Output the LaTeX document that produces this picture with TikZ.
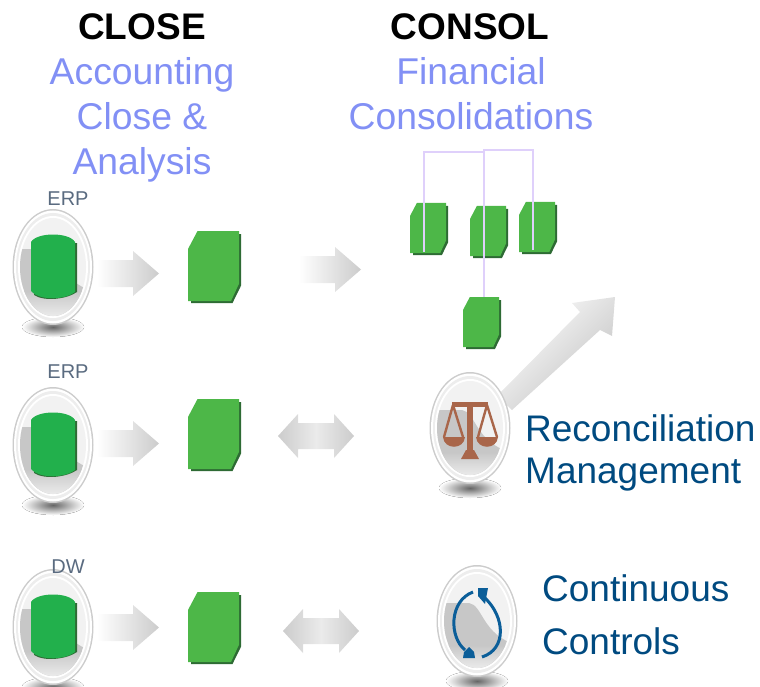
\documentclass[tikz,border=0pt]{standalone}
\usepackage{fontspec}
\setmainfont{Liberation Sans}
\usetikzlibrary{calc}
\definecolor{headblue}{HTML}{8290F5}
\definecolor{navy}{HTML}{004A80}
\definecolor{leaf}{HTML}{4DB748}
\definecolor{cyl}{HTML}{22B04C}
\definecolor{leafdark}{HTML}{2E6B34}
\definecolor{wire}{HTML}{DFD0FB}
\definecolor{slate}{HTML}{5A6B80}
\definecolor{brass}{HTML}{A9664A}
\definecolor{loopblue}{HTML}{0B5E99}
\tikzset{
  x=1pt,y=-1pt,
  title/.style={font=\bfseries\fontsize{37}{40}\selectfont,text=black,inner sep=0pt,anchor=center},
  sub/.style={font=\fontsize{37.3}{45}\selectfont,text=headblue,inner sep=0pt,align=center},
  tag/.style={font=\fontsize{20}{22}\selectfont,text=slate,inner sep=0pt},
  side/.style={font=\fontsize{37}{42}\selectfont,text=navy,inner sep=0pt,align=left,anchor=west},
  wireline/.style={draw=wire,line width=2pt},
  fadearrow/.style={left color=white,right color=black!20,draw=none},
  fadetwo/.style={draw=none,left color=black!20,right color=black!20,middle color=black!8},
}
% green sheet: name, left, top, width, height
\newcommand{\sheet}[5]{%
  \begin{scope}[shift={(#2,#3)}]
    \fill[leafdark] (#4*.3,3) -- (#4,3) -- (#4,#5-#5*.24) -- (#4-#4*.16,#5) -- (3,#5) -- (3,#5-5) -- cycle;
    \fill[leaf] (#4*.18,0) -- (#4-2,0) -- (#4-2,#5-2-#5*.24) -- (#4-2-#4*.15,#5-2) -- (0,#5-2) -- (0,#5*.25) -- cycle;
    \node[minimum width=#4,minimum height=#5,inner sep=0pt,anchor=north west] (#1) at (0,0) {};
  \end{scope}}
% glossy oval: name, cx, cy, vertical radius
\newcommand{\glossy}[4]{%
  \begin{scope}[shift={(#2,#3)}]
    \fill[inner color=black!60,outer color=white] (0,60) ellipse (31 and 10);
    \fill[black!20] (0,0) ellipse (40.5 and #4+1);
    \fill[white] (0,0) ellipse (39 and #4-0.5);
    \fill[black!7] (0,0) ellipse (37 and #4-3);
    \fill[white] (0,0) ellipse (35 and #4-6);
    \begin{scope}
      \clip (0,0) ellipse (33 and #4-8);
      \fill[black!5] (-40,-60) rectangle (40,60);
      \fill[black!22] (-40,-18) -- (-8,-18) .. controls (6,-16) and (5,14) .. (40,24) -- (40,60) -- (-40,60) -- cycle;
      \shade[top color=black!22,bottom color=black!8] (-40,24) rectangle (40,#4-8);
    \end{scope}
    \node[minimum width=81,minimum height=2*#4,inner sep=0pt,anchor=center] (#1) at (0,0) {};
  \end{scope}}
% cylinder: left, top
\newcommand{\drum}[2]{%
  \begin{scope}[shift={(#1,#2)}]
    \fill[leafdark] (3,8) -- (46,8) -- (46,57) .. controls (36,64) and (14,67) .. (3,60) -- cycle;
    \fill[cyl] (0,7) .. controls (6,-3) and (38,-3) .. (44,7) -- (44,57) .. controls (36,64) and (10,67) .. (0,56) -- cycle;
  \end{scope}}
% single arrow: left, top
\newcommand{\oneway}[2]{%
  \shade[fadearrow,shift={(#1,#2)}] (0,9) -- (36,9) -- (36,0) -- (62,22.5) -- (36,45) -- (36,36) -- (0,36) -- cycle;}
% double arrow: left, top
\newcommand{\twoway}[2]{%
  \shade[fadetwo,shift={(#1,#2)}] (0,22) -- (20,0) -- (20,9) -- (56,9) -- (56,0) -- (76,22) -- (56,44) -- (56,35) -- (20,35) -- (20,44) -- cycle;}
\begin{document}
\begin{tikzpicture}
\useasboundingbox (0,0) rectangle (760,687);
% headings
\node[title] (closehead) at (142,27) {CLOSE};
\node[title] (consolhead) at (470,27) {CONSOL};
\node[sub] (closesub) at (142,120) {Accounting\\Close \&\\Analysis};
\node[sub] (consolsub) at (471,94) {Financial\\Consolidations};
% left column
\glossy{ovala}{53}{267}{57}
\glossy{ovalb}{53}{445}{57}
\glossy{ovalc}{53}{627}{57}
\node[tag] (erpa) at (68,199) {ERP};
\node[tag] (erpb) at (68,372) {ERP};
\node[tag] (dw) at (68,567) {DW};
\drum{31}{235}
\drum{31}{413}
\drum{31}{595}
\oneway{97}{251}
\oneway{97}{421}
\oneway{97}{605}
\sheet{boxa}{188}{231}{53}{72}
\sheet{boxb}{188}{399}{53}{72}
\sheet{boxc}{188}{592}{53}{72}
\oneway{299}{247}
\twoway{278}{414}
\twoway{283}{609}
% consolidation group
\sheet{consa}{410}{203}{38}{52}
\sheet{consb}{470}{206}{38}{52}
\sheet{consc}{519}{202}{38}{52}
\sheet{consd}{463}{297}{38}{52}
\coordinate (wirea) at (424,252);
\coordinate (wirec) at (533,250);
\coordinate (busa) at (424,152);
\coordinate (busb) at (484,152);
\coordinate (busc) at (533,150);
\coordinate (busd) at (484,150);
\draw[wireline] (wirea) -- (busa) -- (busb);
\draw[wireline] (consd.north -| busd) -- (busd) -- (busc) -- (wirec);
% reconciliation
\shade[left color=white,right color=black!24,draw=none,shading angle=45]
  (497,396) -- (580,312) -- (572,303) -- (615,297) -- (612,336) -- (600,330) -- (512,410) -- cycle;
\glossy{ovalr}{470}{428}{55}
\begin{scope}[shift={(470,428)},brass]
  \fill (-3,-26) rectangle (3,26);
  \fill (-18,-26) rectangle (18,-21);
  \fill (-4,22) -- (4,22) -- (9,31) -- (-9,31) -- cycle;
  \draw[line width=2.4pt] (-17,-23) -- (-26,9) (-17,-23) -- (-7,9) (17,-23) -- (8,9) (17,-23) -- (27,9);
  \fill (-27,9) -- (-5,9) .. controls (-6,22) and (-26,22) .. (-27,9) -- cycle;
  \fill (6,9) -- (28,9) .. controls (27,22) and (7,22) .. (6,9) -- cycle;
\end{scope}
\node[side] (recon) at (525,453) {Reconciliation\\Management};
% continuous controls
\glossy{ovalk}{477}{621}{55}
\begin{scope}[shift={(477,621)},loopblue]
  \draw[line width=3pt] (-4,-29) .. controls (-28,-20) and (-28,16) .. (-12,29);
  \draw[line width=3pt] (8,-23) .. controls (28,-4) and (30,28) .. (5,36);
  \fill (1,-33) -- (11,-33) -- (8,-17) -- (1,-25) -- cycle;
  \fill (-14,37) -- (-2,37) -- (-3,31) -- (-8,26) -- (-13,31) -- cycle;
\end{scope}
\node[side] (contr) at (542,588) {Continuous};
\node[side] (contb) at (542,641) {Controls};
\end{tikzpicture}
\end{document}
